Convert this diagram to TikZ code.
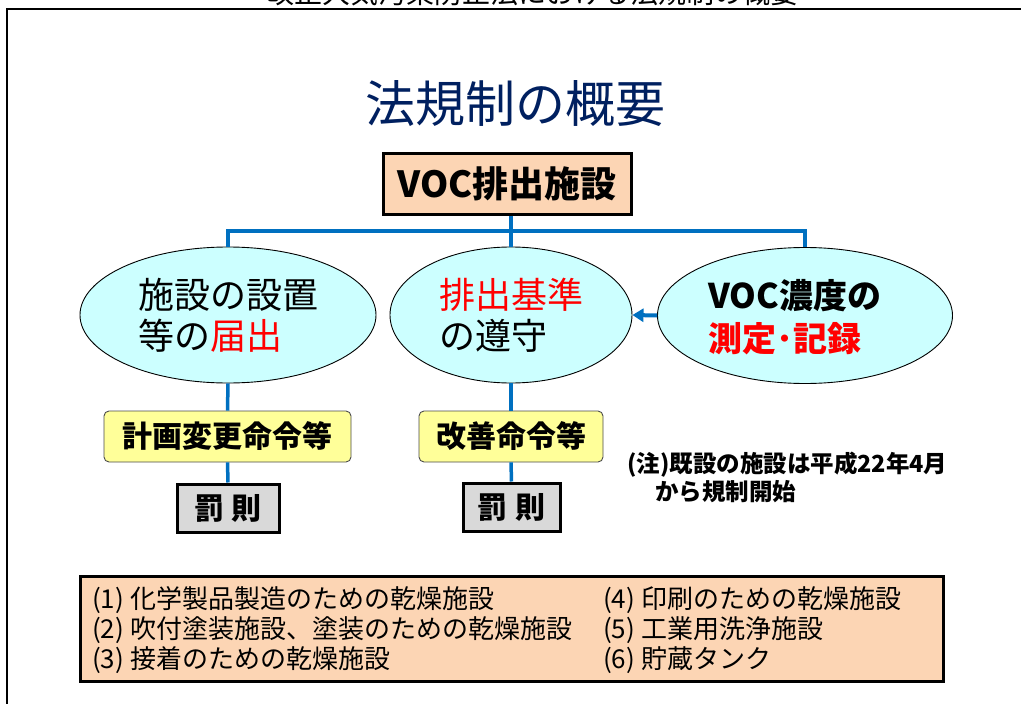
\documentclass[tikz,border=0pt]{standalone}
\usepackage{fontspec}
\setmainfont{Noto Sans CJK JP}
\usetikzlibrary{shapes.geometric,arrows.meta}
\definecolor{navy}{RGB}{0,32,96}
\definecolor{peach}{RGB}{252,213,180}
\definecolor{cyanfill}{RGB}{204,255,255}
\definecolor{yel}{RGB}{255,255,153}
\definecolor{pgray}{RGB}{217,217,217}
\definecolor{conblue}{RGB}{0,112,192}
\definecolor{redtxt}{RGB}{255,0,0}
\begin{document}
\begin{tikzpicture}[x=1pt,y=-1pt,
  ell/.style={ellipse,draw=black,line width=0.9pt,fill=cyanfill,minimum height=136pt,inner sep=0pt,align=left},
  ybox/.style={draw=black!70,fill=yel,rounded corners=5pt,line width=0.9pt,minimum height=51pt,inner sep=0pt,font=\bfseries\fontsize{30}{30}\selectfont},
  pbox/.style={draw=black,fill=pgray,line width=3pt,minimum height=48pt,inner sep=0pt,font=\bfseries\fontsize{30}{30}\selectfont},
  conn/.style={draw=conblue,line width=4pt},
  listtxt/.style={anchor=west,inner sep=0pt,font=\fontsize{26}{26}\selectfont},
  notetxt/.style={anchor=west,inner sep=0pt,font=\bfseries\fontsize{23.5}{23.5}\selectfont},
]
\useasboundingbox (0,0) rectangle (1021,704);
\fill[white] (0,0) rectangle (1021,704);
% clipped heading and frame
\node[anchor=base,inner sep=0pt,font=\fontsize{28}{28}\selectfont] (head) at (532,4) {改正大気汚染防止法における法規制の概要};
\draw[line width=2.2pt] (7,740) -- (7,9) -- (1040,9);
% title
\node[font=\fontsize{50}{50}\selectfont,text=navy,inner sep=0pt] (title) at (515,104) {法規制の概要};
% top box
\node[draw=black,line width=3pt,fill=peach,minimum width=248pt,minimum height=61pt,inner sep=0pt,font=\bfseries\fontsize{36}{36}\selectfont] (voc) at (507,183.5) {VOC排出施設};
% ellipses
\node[ell,minimum width=296pt,font=\fontsize{36}{41}\selectfont] (e1) at (228,315) {施設の設置\\等の\textcolor{redtxt}{届出}};
\node[ell,minimum width=242pt,font=\fontsize{36}{41}\selectfont] (e2) at (511,315) {\textcolor{redtxt}{排出基準}\\の遵守};
\node[ell,minimum width=295pt] (e3) at (805,315.5) {};
\node[anchor=west,inner sep=0pt,align=left,font=\bfseries\fontsize{34}{43}\selectfont] (e3t) at (708,317) {VOC濃度の\\\textcolor{redtxt}{測定･記録}};
% tree connectors
\coordinate (hl) at (228,231);
\draw[conn] (e2.north |- voc.south) -- (e2.north);
\draw[conn] (e1.north) -- (hl) -- (hl -| e3.north) -- (e3.north);
\draw[conn,-{Triangle[length=11pt,width=13pt]}] (e3.west) -- (e2.east);
% lower boxes
\node[ybox,minimum width=247pt] (y1) at (227.5,436.5) {計画変更命令等};
\node[ybox,minimum width=184pt] (y2) at (511,436.5) {改善命令等};
\node[pbox,minimum width=102pt] (p1) at (228,508) {罰\hspace{8pt}則};
\node[pbox,minimum width=97pt] (p2) at (511.5,507) {罰\hspace{8pt}則};
\draw[conn,line width=3.5pt] (e1.south) -- (y1.north);
\draw[conn,line width=3.5pt] (y1.south) -- (p1.north);
\draw[conn,line width=3.5pt] (e2.south) -- (y2.north);
\draw[conn,line width=3.5pt] (y2.south) -- (p2.north);
% note
\node[notetxt] (n1) at (627,465) {(注)既設の施設は平成22年4月};
\node[notetxt] (n2) at (655,492) {から規制開始};
% list box
\node[draw=black,line width=3pt,fill=peach,minimum width=863pt,minimum height=105pt,inner sep=0pt] (list) at (511.5,628.5) {};
\node[listtxt] (l1) at (92,600) {(1)\hspace{6pt}化学製品製造のための乾燥施設};
\node[listtxt] (l2) at (92,630) {(2)\hspace{6pt}吹付塗装施設、塗装のための乾燥施設};
\node[listtxt] (l3) at (92,660) {(3)\hspace{6pt}接着のための乾燥施設};
\node[listtxt] (l4) at (603,600) {(4)\hspace{6pt}印刷のための乾燥施設};
\node[listtxt] (l5) at (603,630) {(5)\hspace{6pt}工業用洗浄施設};
\node[listtxt] (l6) at (603,660) {(6)\hspace{6pt}貯蔵タンク};
\end{tikzpicture}
\end{document}
